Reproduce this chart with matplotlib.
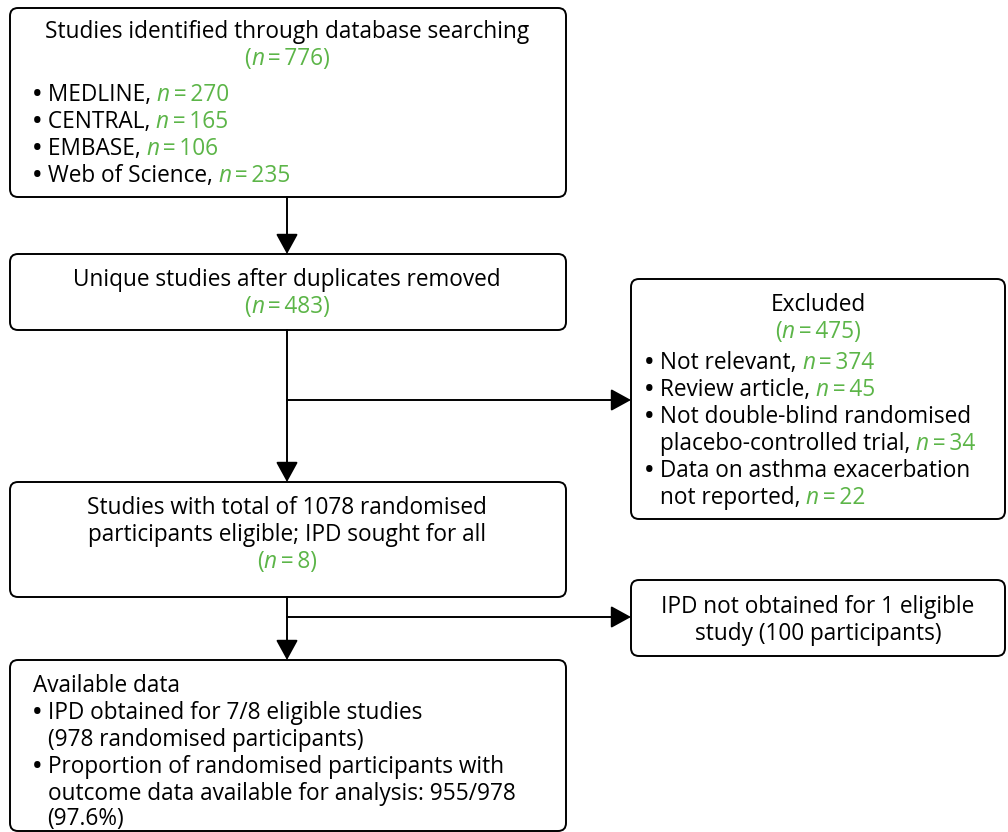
import matplotlib
matplotlib.use('Agg')
import matplotlib.pyplot as plt
from matplotlib.patches import FancyBboxPatch

plt.rcParams['font.family'] = ['Open Sans', 'DejaVu Sans']

GREEN = '#5cb548'
FS = 16.3
LH = 27  # line height in px
DY = 2   # baseline nudge

# data
db_names = ['MEDLINE', 'CENTRAL', 'EMBASE', 'Web of Science']
db_counts = [270, 165, 106, 235]
n_identified = 776
n_unique = 483
n_excluded = 475
excl_reasons = [['Not relevant'], ['Review article'],
                ['Not double-blind randomised', 'placebo-controlled trial'],
                ['Data on asthma exacerbation', 'not reported']]
excl_counts = [374, 45, 34, 22]
n_eligible = 8
n_randomised = 1078
ipd_missing_studies = 1
ipd_missing_participants = 100
ipd_obtained = '7/8'
ipd_participants = 978
outcome_available = 955
outcome_pct = 97.6

fig = plt.figure(figsize=(10.08, 8.32), dpi=100)
ax = fig.add_axes([0, 0, 1, 1])
ax.set_xlim(0, 1008)
ax.set_ylim(832, 0)
ax.axis('off')
renderer = fig.canvas.get_renderer()


def width(s, italic=False, bold=False):
    t = ax.text(0, 0, '|' + s + '|', fontsize=FS, style='italic' if italic else 'normal',
                fontweight='bold' if bold else 'normal')
    t2 = ax.text(0, 0, '||', fontsize=FS, fontweight='bold' if bold else 'normal')
    w = t.get_window_extent(renderer).width - t2.get_window_extent(renderer).width
    t.remove(); t2.remove()
    return w


def line(x, y, runs, ha='left'):
    # runs: (text, italic, green); a leading bullet is drawn in bold
    parts = []
    for s, it, g in runs:
        if s.startswith('\u2022 '):
            parts.append(('\u2022', it, g, True))
            parts.append((s[1:], it, g, False))
        else:
            parts.append((s, it, g, False))
    ws = [width(s, it, b) for s, it, g, b in parts]
    x0 = x - sum(ws) / 2 if ha == 'center' else x
    for (s, it, g, b), w in zip(parts, ws):
        ax.text(x0, y + DY, s, fontsize=FS, style='italic' if it else 'normal',
                fontweight='bold' if b else 'normal',
                color=GREEN if g else 'black', va='baseline', ha='left')
        x0 += w


def nrun(n, paren=False):
    if paren:
        return [('(', False, True), ('n', True, True), ('\u2009=\u2009%s)' % n, False, True)]
    return [('n', True, True), ('\u2009=\u2009%s' % n, False, True)]


def box(x0, y0, x1, y1):
    ax.add_patch(FancyBboxPatch((x0, y0), x1 - x0, y1 - y0,
                                boxstyle='round,pad=0,rounding_size=8',
                                fc='white', ec='black', lw=1.4))


def arrow(x0, y0, x1, y1):
    ax.annotate('', xy=(x1, y1), xytext=(x0, y0),
                arrowprops=dict(arrowstyle='-|>,head_length=0.62,head_width=0.34',
                                mutation_scale=20, lw=1.4, color='black',
                                shrinkA=0, shrinkB=0))


# boxes
box(10, 8, 566, 197)
box(10, 254, 566, 330)
box(631, 279, 1005, 519)
box(10, 482, 566, 597)
box(631, 580, 1005, 656)
box(10, 660, 566, 831)

# connectors
cx = 287
arrow(cx, 197, cx, 254)
ax.plot([cx, cx], [330, 400], color='black', lw=1.4)
arrow(cx, 400, cx, 482)
arrow(cx, 400, 631, 400)
ax.plot([cx, cx], [597, 617], color='black', lw=1.4)
arrow(cx, 617, cx, 660)
arrow(cx, 617, 631, 617)

bullet = '\u2022 '
ind = width('\u2022', bold=True) + width(' ')

# box 1
line(cx, 36, [('Studies identified through database searching', False, False)], 'center')
line(cx, 63, nrun(n_identified, True), 'center')
for i, (nm, c) in enumerate(zip(db_names, db_counts)):
    line(33, 99 + i * LH, [(bullet + nm + ', ', False, False)] + nrun(c))

# box 2
line(cx, 284, [('Unique studies after duplicates removed', False, False)], 'center')
line(cx, 311, nrun(n_unique, True), 'center')

# excluded box
ex = 818
line(ex, 309, [('Excluded', False, False)], 'center')
line(ex, 336, nrun(n_excluded, True), 'center')
y = 367
for parts, c in zip(excl_reasons, excl_counts):
    for j, p in enumerate(parts):
        last = j == len(parts) - 1
        txt = (bullet + p if j == 0 else p) + (', ' if last else '')
        runs = [(txt, False, False)] + (nrun(c) if last else [])
        line(645 if j == 0 else 645 + ind, y, runs)
        y += LH

# box 3
line(cx, 512, [('Studies with total of %d randomised' % n_randomised, False, False)], 'center')
line(cx, 539, [('participants eligible; IPD sought for all', False, False)], 'center')
line(cx, 566, nrun(n_eligible, True), 'center')

# IPD not obtained
line(ex, 611, [('IPD not obtained for %d eligible' % ipd_missing_studies, False, False)], 'center')
line(ex, 638, [('study (%d participants)' % ipd_missing_participants, False, False)], 'center')

# available data
ax_x = 33
line(ax_x, 690, [('Available data', False, False)])
line(ax_x, 717, [(bullet + 'IPD obtained for %s eligible studies' % ipd_obtained, False, False)])
line(ax_x + ind, 744, [('(%d randomised participants)' % ipd_participants, False, False)])
line(ax_x, 771, [(bullet + 'Proportion of randomised participants with', False, False)])
line(ax_x + ind, 798, [('outcome data available for analysis: %d/%d' % (outcome_available, ipd_participants), False, False)])
line(ax_x + ind, 823, [('(%.1f%%)' % outcome_pct, False, False)])

fig.savefig('out.png', dpi=100)
